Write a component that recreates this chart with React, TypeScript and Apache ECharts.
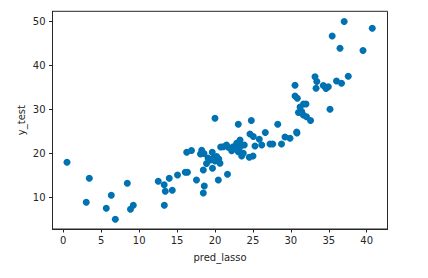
import React, { useEffect, useRef } from "react";
import * as echarts from "echarts";

const predLasso: number[] = [
  0.49, 3.43, 8.44, 6.33, 3.03, 5.67, 9.23, 8.86, 6.86,
  12.52, 13.3, 13.45, 13.97, 14.37, 13.32, 15.06, 16.08, 16.37, 16.27, 16.9,
  17.56, 18.25, 18.09, 18.55, 18.46, 18.59, 18.46, 18.88, 19.64, 19.4,
  19.87, 20.22, 19.67, 20.44, 20.66, 20.75, 21.09, 21.52, 21.75, 21.65,
  22.2, 22.86, 23.07, 23.3, 23.52, 23.2, 23.52, 23.86, 24.61, 25.05,
  24.52, 25.01, 25.27, 25.84, 26.16, 26.63, 27.25, 27.61, 28.77, 29.23,
  29.89, 30.77, 30.8, 20.0, 23.07, 24.79, 28.27, 30.55, 30.55, 30.85,
  31.21, 31.67, 32.0, 31.0, 31.43, 31.64, 32.06, 32.6, 35.16, 33.18,
  33.42, 33.32, 34.28, 34.63, 34.94, 36.02, 36.68, 37.57, 35.45, 37.03,
  36.48, 39.51, 40.73, 22.41, 23.07, 23.73, 19.08, 20.0, 20.5,
];

const yTest: number[] = [
  17.95, 14.32, 13.18, 10.45, 8.86, 7.5, 8.18, 7.27, 5.0,
  13.64, 12.84, 11.36, 14.32, 11.59, 8.18, 15.07, 15.68, 15.68, 20.23, 20.64,
  13.93, 20.68, 19.84, 19.95, 16.2, 12.57, 10.98, 17.68, 20.23, 18.48,
  19.05, 19.27, 16.59, 13.93, 17.73, 21.43, 21.5, 21.89, 21.36, 15.23,
  20.59, 22.27, 20.36, 23.02, 21.89, 21.14, 19.39, 21.89, 24.39, 23.82,
  19.09, 19.39, 21.66, 23.18, 21.89, 24.73, 22.11, 22.11, 22.11, 23.7,
  23.41, 24.84, 24.6, 27.95, 26.59, 27.45, 26.61, 35.45, 33.02, 32.5,
  30.52, 31.2, 31.2, 29.27, 29.5, 28.7, 28.32, 27.45, 30.0, 37.41,
  36.32, 34.77, 35.41, 34.73, 35.14, 36.43, 35.91, 37.52, 46.66, 49.95,
  43.86, 43.36, 48.41, 21.5, 21.14, 20.0, 18.93, 18.25, 18.7,
];

const xTicks: number[] = [0, 5, 10, 15, 20, 25, 30, 35, 40];
const yTicks: number[] = [10, 20, 30, 40, 50];

const FONT = "DejaVu Sans";
const INK = "#262626";

export default function App() {
  const ref = useRef<HTMLDivElement>(null);
  useEffect(() => {
    if (!ref.current) return;
    const chart = echarts.init(ref.current, null, { renderer: "svg" });
    const data = predLasso.map((x, i) => [x, yTest[i]]);
    chart.setOption({
      animation: false,
      grid: {
        left: 52.5,
        right: 40.5,
        top: 11.3,
        bottom: 49,
        show: true,
        borderColor: INK,
        borderWidth: 1,
        backgroundColor: "transparent",
      },
      xAxis: {
        type: "value",
        min: -1.42,
        max: 42.74,
        name: "pred_lasso",
        nameLocation: "middle",
        nameGap: 23,
        nameMoveOverlap: false,
        nameTextStyle: { fontFamily: FONT, fontSize: 10, color: INK },
        axisLine: { show: true, onZero: false, lineStyle: { color: INK, width: 1 } },
        axisTick: { show: true, length: 3.5, customValues: xTicks, lineStyle: { color: INK } },
        axisLabel: { customValues: xTicks, margin: 6, fontFamily: FONT, fontSize: 10, color: INK },
        splitLine: { show: false },
      },
      yAxis: {
        type: "value",
        min: 2.8,
        max: 52.27,
        name: "y_test",
        nameLocation: "middle",
        nameGap: 26,
        nameMoveOverlap: false,
        nameTextStyle: { fontFamily: FONT, fontSize: 10, color: INK },
        axisLine: { show: true, onZero: false, lineStyle: { color: INK, width: 1 } },
        axisTick: { show: true, length: 3.5, customValues: yTicks, lineStyle: { color: INK } },
        axisLabel: { customValues: yTicks, margin: 7, fontFamily: FONT, fontSize: 10, color: INK },
        splitLine: { show: false },
      },
      series: [
        {
          type: "scatter",
          data,
          symbol: "circle",
          symbolSize: 7,
          itemStyle: { color: "#0072B2", opacity: 1 },
        },
      ],
    });
    return () => chart.dispose();
  }, []);
  return (
    <div
      ref={ref}
      style={{ position: "fixed", left: 0, top: 0, width: 428, height: 278, background: "#fff" }}
    />
  );
}
